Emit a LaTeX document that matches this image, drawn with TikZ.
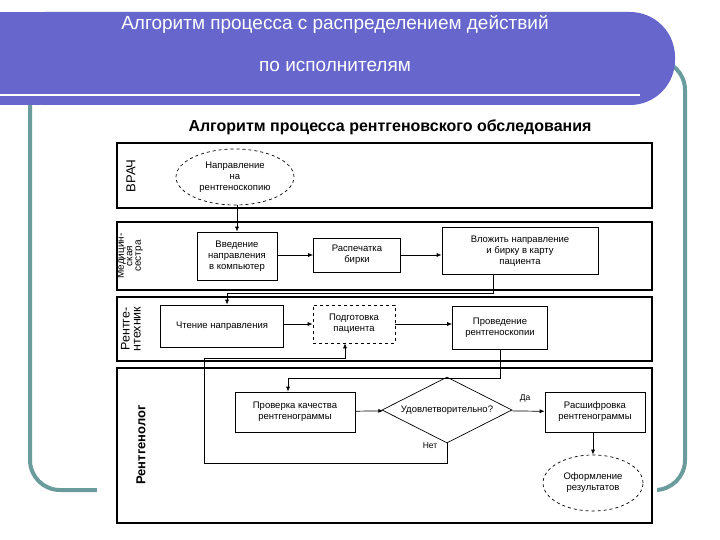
\documentclass[tikz,border=0pt]{standalone}
\usepackage{fontspec}
\setmainfont{Liberation Sans}
\usetikzlibrary{shapes.geometric,arrows.meta}
\definecolor{hdr}{HTML}{6666CC}
\definecolor{teal2}{HTML}{6A9C9E}
\tikzset{
 lane/.style={draw,line width=1.4pt},
 box/.style={draw,line width=0.7pt,align=center,font=\fontsize{9.5}{11}\selectfont,inner sep=2pt},
 dbox/.style={box,dashed},
 oval/.style={ellipse,draw,dashed,line width=0.7pt,align=center,font=\fontsize{9.5}{11}\selectfont,inner sep=0pt},
 lbl/.style={rotate=90,align=center,font=\fontsize{12}{11}\selectfont},
 arr/.style={-{Latex[length=5pt,width=4pt]},line width=0.7pt},
 ln/.style={line width=0.6pt}
}
\begin{document}
\begin{tikzpicture}[x=1pt,y=-1pt]
\useasboundingbox (0,0) rectangle (720,540);
\fill[white] (0,0) rectangle (720,540);
% slide frame
\draw[teal2,line width=4pt,rounded corners=30pt] (30,60) rectangle (685,490);
\fill[hdr,rounded corners=45pt] (0,12) -- (675,12) -- (675,105) -- (0,105) -- cycle;
\fill[hdr] (0,12) rectangle (40,105);
\draw[white,line width=2pt] (0,95) -- (640,95);
\node[white,font=\fontsize{19}{20}\selectfont] (h1) at (335,24) {Алгоритм процесса с распределением действий};
\node[white,font=\fontsize{19}{20}\selectfont] (h2) at (335,66) {по исполнителям};
\fill[white] (97,108) rectangle (657,528);
\node[font=\bfseries\fontsize{16}{18}\selectfont] (t) at (390,127) {Алгоритм процесса рентгеновского обследования};
% lanes
\draw[lane] (117,143) rectangle (652,208);
\draw[lane] (117,222) rectangle (652,290);
\draw[lane] (117,297) rectangle (652,361);
\draw[lane] (117,368) rectangle (652,523);
\node[lbl,font=\fontsize{13}{13}\selectfont] (l1) at (131,176) {ВРАЧ};
\node[lbl,font=\fontsize{10}{8.5}\selectfont] (l2) at (130,256) {Медицин-\\ская\\сестра};
\node[lbl,font=\fontsize{12.5}{11}\selectfont] (l3) at (131,329) {Рентге-\\нтехник};
\node[lbl,font=\bfseries\fontsize{13}{13}\selectfont] (l4) at (141,445) {Рентгенолог};
% nodes
\node[oval,minimum width=118pt,minimum height=56pt] (e1) at (235,177) {Направление\\на\\рентгеноскопию};
\node[box,minimum width=80pt,minimum height=48pt] (b1) at (237,256) {Введение\\направления\\в компьютер};
\node[box,minimum width=87pt,minimum height=34pt] (b2) at (357,255) {Распечатка\\бирки};
\node[box,minimum width=156pt,minimum height=47pt] (b3) at (520,251) {Вложить направление\\и бирку в карту\\пациента};
\node[box,minimum width=123pt,minimum height=42pt] (c1) at (222,326) {Чтение направления};
\node[dbox,minimum width=82pt,minimum height=38pt] (c2) at (354,324) {Подготовка\\пациента};
\node[box,minimum width=95pt,minimum height=43pt] (c3) at (500,328) {Проведение\\рентгеноскопии};
\node[box,minimum width=120pt,minimum height=40pt] (d1) at (295,412) {Проверка качества\\рентгенограммы};
\node[diamond,draw,line width=0.7pt,aspect=2,minimum width=130pt,minimum height=66pt,inner sep=0pt,font=\fontsize{9.5}{10}\selectfont] (dm) at (447,410) {Удовлетворительно?};
\node[box,minimum width=100pt,minimum height=40pt] (d2) at (595,412) {Расшифровка\\рентгенограммы};
\node[oval,minimum width=100pt,minimum height=56pt] (e2) at (593,483) {Оформление\\результатов};
\node[font=\fontsize{8.5}{8}\selectfont] (da) at (525,398) {Да};
\node[font=\fontsize{8.5}{8}\selectfont] (net) at (430,446) {Нет};
% connectors
\coordinate (p1) at (493,293); \coordinate (p2) at (227,293);
\coordinate (q1) at (500,378); \coordinate (q2) at (288,378);
\coordinate (n1) at (447,463); \coordinate (n2) at (204,463);
\coordinate (n3) at (204,358); \coordinate (n4) at (345,358);
\draw[arr] (e1.south -| b1) -- (b1);
\draw[arr] (b1.east |- b2) -- (b2);
\draw[arr] (b2.east) -- (b2.east -| b3.west);
\draw[arr] (b3.south -| p1) -- (p1) -- (p2) -- (c1.north -| p2);
\draw[arr] (c1.east |- c2) -- (c2);
\draw[arr] (c2.east) -- (c2.east -| c3.west);
\draw[arr] (c3.south -| q1) -- (q1) -- (q2) -- (d1.north -| q2);
\draw[arr] (d1) -- (dm);
\draw[arr] (dm) -- (d2);
\draw[arr] (d2.south -| e2) -- (e2);
\draw[arr] (dm.south) -- (n1) -- (n2) -- (n3) -- (n4) -- (c2.south -| n4);
\end{tikzpicture}
\end{document}
